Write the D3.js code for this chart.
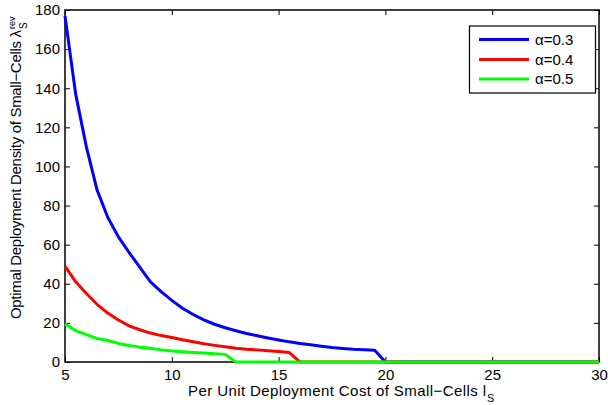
<!DOCTYPE html>
<html><head><meta charset="utf-8">
<script src="https://cdn.jsdelivr.net/npm/d3@7"></script>
<style>
body{margin:0;background:#fff}
text{font-family:"Liberation Sans",Arial,Helvetica,sans-serif;fill:#000}
</style>
</head><body>
<svg id="chart" width="608" height="405"></svg>
<script>
// ---- data ----
const xTicks = [5, 10, 15, 20, 25, 30];
const yTicks = [0, 20, 40, 60, 80, 100, 120, 140, 160, 180];
const seriesNames = ["α=0.3", "α=0.4", "α=0.5"];
const seriesColors = ["#0000ff", "#ff0000", "#00ff00"];

const xBlue = [5,5.5,6,6.5,7,7.5,8,8.5,9,9.5,10,10.5,11,11.5,12,12.5,13,13.5,14,14.5,15,15.5,16,16.5,17,17.5,18,18.5,19,19.5,20,30];
const yBlue = [177,137,110,88,74,64,56,48.5,41,36,31.5,27.5,24.3,21.5,19.3,17.5,16,14.6,13.4,12.3,11.3,10.3,9.5,8.8,8.1,7.4,6.9,6.5,6.3,6.0,0,0];

const xRed = [5,5.5,6,6.5,7,7.5,8,8.5,9,9.5,10,10.5,11,11.5,12,12.5,13,13.5,14,14.5,15,15.5,16,30];
const yRed = [49,41,35,29.5,25,21.5,18.5,16.5,14.8,13.5,12.5,11.4,10.4,9.3,8.5,7.8,7,6.5,6.2,5.8,5.4,4.8,0,0];

const xGreen = [5,5.5,6,6.5,7,7.5,8,8.5,9,9.5,10,10.5,11,11.5,12,12.5,13,30];
const yGreen = [19.5,16,14,12,11,9.5,8.4,7.6,7,6.2,5.6,5.2,4.9,4.6,4.2,3.9,0,0];

const seriesX = [xBlue, xRed, xGreen];
const seriesY = [yBlue, yRed, yGreen];

// ---- layout ----
const svg = d3.select("#chart");
const L = 65, R = 599, T = 10, B = 362;
const x = d3.scaleLinear().domain([5, 30]).range([L, R]);
const y = d3.scaleLinear().domain([0, 180]).range([B, T]);
const tickLen = 5;

// frame
svg.append("rect").attr("x", L).attr("y", T).attr("width", R - L).attr("height", B - T)
  .attr("fill", "none").attr("stroke", "#000").attr("stroke-width", 1.5);

function styleAxis(g, fs) {
  g.select(".domain").remove();
  g.selectAll(".tick line").attr("stroke", "#000").attr("stroke-width", 1);
  g.selectAll(".tick text").attr("font-size", fs).attr("fill", "#000")
    .style("font-family", '"Liberation Sans",Arial,Helvetica,sans-serif');
}

svg.append("g").attr("transform", `translate(0,${B})`)
  .call(d3.axisBottom(x).tickValues(xTicks).tickSize(-tickLen).tickPadding(7).tickFormat(d3.format("d")))
  .call(g => styleAxis(g, 15));
svg.append("g").attr("transform", `translate(0,${T})`)
  .call(d3.axisTop(x).tickValues(xTicks).tickSize(-tickLen).tickFormat(""))
  .call(g => styleAxis(g, 15));
svg.append("g").attr("transform", `translate(${L},0)`)
  .call(d3.axisLeft(y).tickValues(yTicks).tickSize(-tickLen).tickPadding(5).tickFormat(d3.format("d")))
  .call(g => styleAxis(g, 15));
svg.append("g").attr("transform", `translate(${R},0)`)
  .call(d3.axisRight(y).tickValues(yTicks).tickSize(-tickLen).tickFormat(""))
  .call(g => styleAxis(g, 15));

// lines
const line = d3.line().x(d => x(d[0])).y(d => y(d[1]));
seriesX.forEach((xs, i) => {
  const pts = xs.map((v, j) => [v, seriesY[i][j]]);
  svg.append("path").datum(pts).attr("d", line)
    .attr("fill", "none").attr("stroke", seriesColors[i]).attr("stroke-width", 3)
    .attr("stroke-linejoin", "round").attr("stroke-linecap", "butt");
});

// x label
const xl = svg.append("g").attr("transform", "translate(188,396)");
xl.append("text").attr("font-size", 15)
  .attr("textLength", 298).attr("lengthAdjust", "spacing")
  .text("Per Unit Deployment Cost of Small\u2212Cells l");
xl.append("text").attr("x", 299).attr("y", 6).attr("font-size", 11).text("S");

// y label
const yl = svg.append("g").attr("transform", "translate(21,319) rotate(-90)");
yl.append("text").attr("font-size", 15)
  .attr("textLength", 289).attr("lengthAdjust", "spacing")
  .text("Optimal Deployment Density of Small\u2212Cells \u03bb");
yl.append("text").attr("x", 290).attr("y", -6).attr("font-size", 9).text("rev");
yl.append("text").attr("x", 290).attr("y", 6).attr("font-size", 10).text("S");

// legend
const lg = svg.append("g");
lg.append("rect").attr("x", 469.5).attr("y", 26).attr("width", 126).attr("height", 67)
  .attr("fill", "#fff").attr("stroke", "#000").attr("stroke-width", 1.2);
const legY = [39.5, 59.5, 79];
seriesNames.forEach((n, i) => {
  lg.append("line").attr("x1", 479).attr("x2", 529).attr("y1", legY[i]).attr("y2", legY[i])
    .attr("stroke", seriesColors[i]).attr("stroke-width", 3);
  lg.append("text").attr("x", 535).attr("y", legY[i] + 5).attr("font-size", 15).text(n);
});
</script>
</body></html>
